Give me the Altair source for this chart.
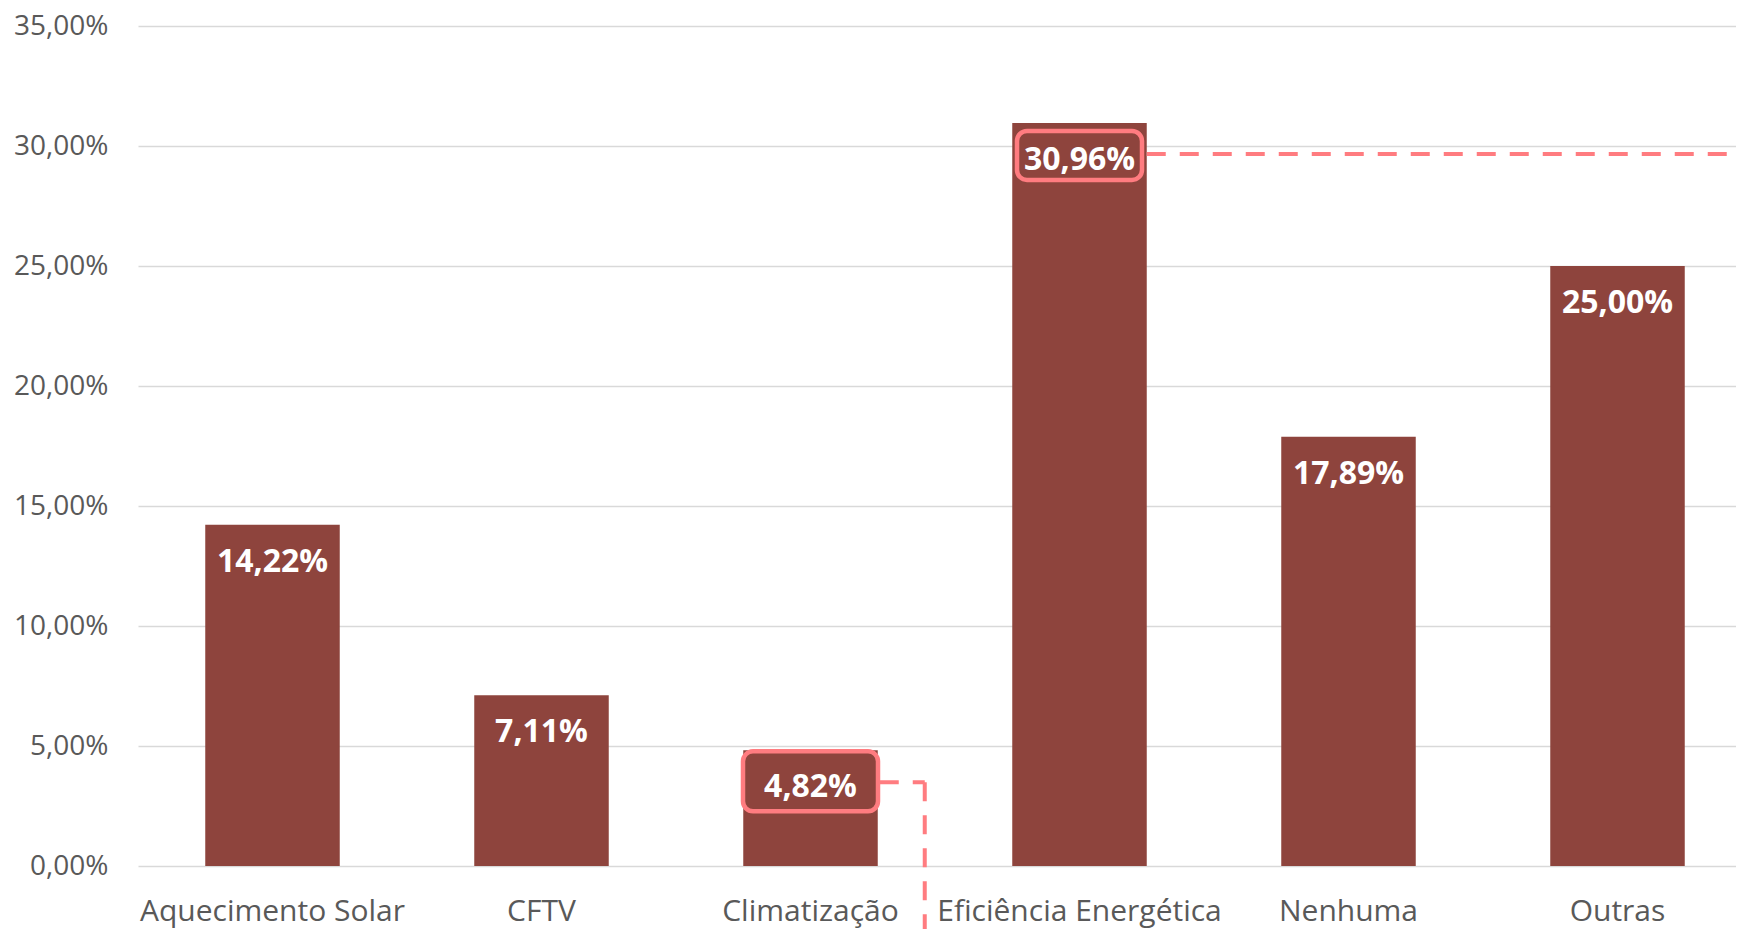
import altair as alt
import pandas as pd

categories = ["Aquecimento Solar", "CFTV", "Climatização", "Eficiência Energética", "Nenhuma", "Outras"]
values = [14.22, 7.11, 4.82, 30.96, 17.89, 25.00]
y_ticks = [0, 5, 10, 15, 20, 25, 30, 35]

BAR = "#8E443D"
PINK = "#FF7C80"
FONT = "Open Sans"

df = pd.DataFrame({"cat": categories, "val": values})

# the plot area runs past the right edge of the picture (cropped chart)
xscale = alt.Scale(domain=categories, paddingInner=0.5, paddingOuter=0.25, range=[0, 1614])


def X(**kw):
    return alt.X("cat:N", sort=categories, scale=xscale, **kw)


x_main = X(axis=alt.Axis(title=None, ticks=False, tickSize=0, domain=False, labelPadding=30,
                         labelFontSize=30, labelFont=FONT, labelColor="#595959", labelAngle=0,
                         labelLimit=0))
y_main = alt.Y("val:Q", scale=alt.Scale(domain=[0, 35], nice=False),
               axis=alt.Axis(values=y_ticks, title=None, ticks=False, tickSize=0, domain=False,
                             labelExpr="replace(format(datum.value, '.2f'), '.', ',') + '%'",
                             gridColor="#D9D9D9", gridWidth=1.5, labelPadding=30,
                             labelFontSize=28, labelFont=FONT, labelColor="#595959"))

base = alt.Chart(df)

bars = base.mark_bar(color=BAR).encode(x=x_main, y=y_main)

box_clim = base.transform_filter(alt.datum.cat == "Climatização").mark_bar(
    fill=BAR, stroke=PINK, strokeWidth=4.5, cornerRadius=10, width=135, yOffset=1, y2Offset=61
).encode(x=X(), y="val:Q", y2="val:Q")

box_efic = base.transform_filter(alt.datum.cat == "Eficiência Energética").mark_bar(
    fill=BAR, stroke=PINK, strokeWidth=4.5, cornerRadius=10, width=125, yOffset=8, y2Offset=57
).encode(x=X(), y="val:Q", y2="val:Q")

labels = base.transform_calculate(
    label="replace(format(datum.val, '.2f'), '.', ',') + '%'"
).mark_text(dy=37, fontSize=32, fontWeight="bold", font=FONT, color="white").encode(
    x=X(), y="val:Q", text="label:N")

dash = dict(color=PINK, strokeWidth=4, strokeDash=[19, 14])

lead_efic = base.transform_filter(alt.datum.cat == "Eficiência Energética").mark_rule(
    yOffset=31, **dash
).encode(x=X(bandPosition=1), x2=alt.value(1700), y="val:Q")

lead_clim_h = base.transform_filter(alt.datum.cat == "Climatização").mark_rule(
    yOffset=32, xOffset=2, x2Offset=47, **dash
).encode(x=X(bandPosition=1), x2=alt.X2("cat:N", bandPosition=1), y="val:Q")

lead_clim_v = base.transform_filter(alt.datum.cat == "Climatização").mark_rule(
    yOffset=32, xOffset=47, **dash
).encode(x=X(bandPosition=1), y="val:Q", y2=alt.value(920))

chart = alt.layer(bars, lead_efic, lead_clim_h, lead_clim_v, box_clim, box_efic, labels).properties(
    width=1598, height=840,
    autosize=alt.AutoSizeParams(type="none"),
    padding={"left": 130, "top": 18, "right": 0, "bottom": 63},
    background="white",
).configure_view(stroke=None)

chart.save("out.html", embed_options={"renderer": "svg", "actions": False})
